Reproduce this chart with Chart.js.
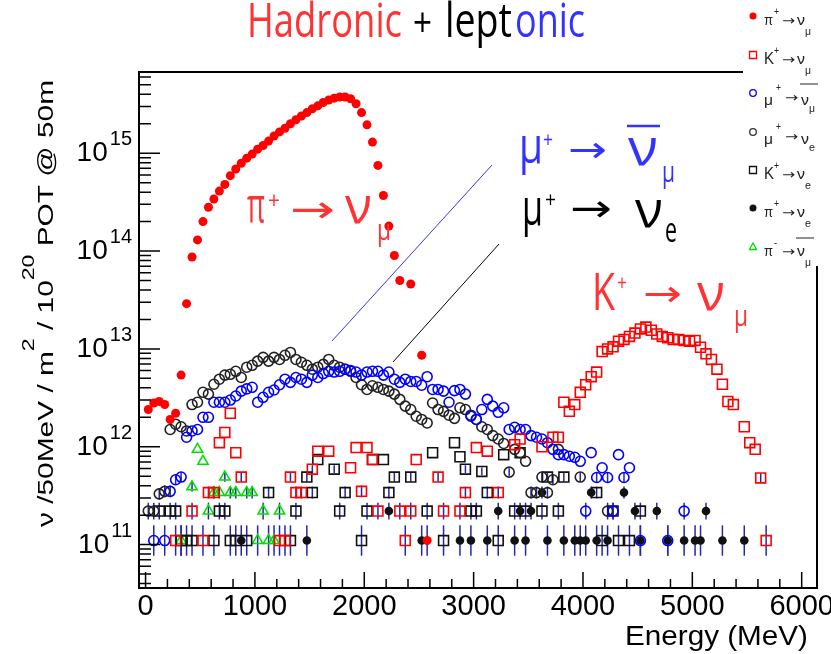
<!DOCTYPE html>
<html>
<head>
<meta charset="utf-8">
<script src="https://cdn.jsdelivr.net/npm/chart.js@4.4.0/dist/chart.umd.min.js"></script>
<style>html,body{margin:0;padding:0;background:#fff;}</style>
</head>
<body>
<canvas id="chart" width="831" height="654"></canvas>
<script>
// values (50 MeV bins, nu / 50MeV / m^2 / 1e20 POT)
var piNumuE = [25,75,125,175,225,275,325,375,425,475,525,575,625,675,725,775,825,875,925,975,1025,1075,1125,1175,1225,1275,1325,1375,1425,1475,1525,1575,1625,1675,1725,1775,1825,1875,1925,1975,2025,2075,2125,2175,2225,2275,2325,2425,2525,2575];
var piNumuV = [2.4e12,2.8e12,2.9e12,2.7e12,1.9e12,2.2e12,5.4e12,2.9e13,8.7e13,1.3e14,2.0e14,2.8e14,3.4e14,4.1e14,4.8e14,5.9e14,6.9e14,7.9e14,8.9e14,9.8e14,1.1e15,1.2e15,1.33e15,1.5e15,1.65e15,1.8e15,2.0e15,2.2e15,2.4e15,2.6e15,2.85e15,3.05e15,3.3e15,3.5e15,3.65e15,3.75e15,3.75e15,3.6e15,3.2e15,2.6e15,1.95e15,1.3e15,7.5e14,3.7e14,1.8e14,9.0e13,5.0e13,4.6e13,8.6e12,1.1e11];

var kNumuE = [275,425,525,575,625,675,725,775,825,875,1225,1275,1325,1375,1425,1525,1575,1675,1875,1925,1975,2025,2075,2125,2325,2375,2425,2475,2675,2725,2875,2925,3025,3125,3225,3375,3425,3625,3725,3775,
  3825,3875,3925,3975,4025,4075,4125,4175,4225,4275,4325,4375,4425,4475,4525,4575,4625,4675,4725,4775,4825,4875,4925,4975,5025,5075,5125,5175,5225,5275,5325,5375,5475,5525,5575,5625,5675];
var kNumuV = [1.1e11,2.2e11,1.1e11,3.4e11,3.4e11,1.1e12,1.4e12,2.2e12,8.7e11,4.9e11,1.1e11,1.1e11,4.9e11,3.4e11,3.4e11,5.9e11,9.0e11,9.0e11,6.1e11,9.8e11,3.5e11,9.8e11,7.4e11,2.2e11,2.2e11,1.1e11,2.2e11,7.4e11,4.9e11,2.2e11,2.2e11,3.4e11,9.8e11,9.0e11,3.4e11,1.05e12,1.2e12,1.0e12,1.25e12,1.25e12,
  2.85e12,2.3e12,2.7e12,3.6e12,4.3e12,5.2e12,5.8e12,9.4e12,1.0e13,1.05e13,1.2e13,1.25e13,1.34e13,1.45e13,1.6e13,1.67e13,1.55e13,1.42e13,1.34e13,1.3e13,1.25e13,1.25e13,1.22e13,1.2e13,1.22e13,1.04e13,8.9e12,7.8e12,6.2e12,4.35e12,2.9e12,2.7e12,1.6e12,1.1e12,9.4e11,4.8e11,1.1e11];

var muNumubarE = [75,175,225,275,325,375,425,475,525,575,625,675,725,775,825,875,925,975,1025,1075,1125,1175,1225,1275,1325,1375,1425,1475,1525,1575,1625,1675,1725,1775,1825,1875,1925,1975,2025,2075,2125,2175,2225,2275,2325,2375,2425,2475,2525,2575,2625,2675,2725,2775,2825,2875,2925,2975,3025,3075,3125,3175,3225,3275,3325,3375,3425,3475,3525,3575,3625,3675,3725,3775,3825,3875,3925,3975,4025,4075,4125,4175,4225,4275,4325,4375,4425,4525,4775,4925];
var muNumubarV = [1.1e11,1.1e11,3.5e11,4.6e11,4.9e11,1.25e12,1.45e12,1.5e12,2.0e12,2.0e12,2.85e12,2.85e12,2.85e12,3.0e12,3.3e12,3.7e12,3.9e12,4.05e12,2.85e12,3.2e12,3.6e12,3.8e12,4.3e12,4.9e12,4.55e12,5.1e12,4.9e12,4.55e12,5.4e12,5.1e12,5.6e12,5.9e12,5.8e12,5.9e12,6.2e12,6.0e12,5.8e12,5.4e12,5.8e12,5.9e12,5.9e12,5.4e12,5.8e12,4.9e12,4.55e12,4.9e12,4.65e12,4.65e12,4.25e12,5.2e12,3.85e12,3.85e12,3.7e12,2.85e12,3.75e12,3.85e12,3.45e12,2.05e12,1.9e12,2.4e12,3.05e12,2.6e12,2.25e12,2.5e12,1.5e12,1.58e12,1.5e12,1.5e12,1.3e12,1.25e12,1.2e12,1.1e12,9.4e11,8.3e11,8.3e11,8.0e11,7.8e11,7.1e11,2.2e11,8.7e11,4.85e11,6.1e11,4.85e11,2.2e11,8.3e11,4.85e11,6.1e11,1.1e11,1.1e11,2.2e11];

var muNueE = [25,75,125,175,225,275,325,375,425,475,525,575,625,675,725,775,825,875,925,975,1025,1075,1125,1175,1225,1275,1325,1375,1425,1475,1525,1575,1625,1675,1725,1775,1825,1875,1925,1975,2025,2075,2125,2175,2225,2275,2325,2375,2425,2475,2525,2575,2625,2675,2725,2775,2825,2875,2925,2975,3025,3075,3125,3175,3225,3275,3325,3375,3425,3475,3525,3575,3625,3675,3725,3775,3975,4225];
var muNueV = [2.2e11,2.2e11,3.3e11,3.5e11,1.5e12,1.7e12,1.6e12,1.45e12,2.7e12,2.85e12,3.6e12,3.45e12,4.35e12,4.9e12,5.4e12,5.5e12,5.9e12,5.1e12,6.5e12,6.8e12,7.5e12,8.2e12,7.5e12,8.2e12,7.8e12,8.6e12,9.2e12,7.8e12,7.3e12,6.8e12,6.2e12,6.5e12,6.95e12,7.8e12,6.8e12,6.5e12,6.2e12,5.9e12,5.1e12,4.3e12,3.85e12,4.2e12,4.05e12,3.85e12,3.7e12,3.45e12,3.05e12,2.6e12,2.4e12,2.05e12,1.9e12,1.75e12,2.8e12,2.4e12,2.3e12,2.1e12,1.95e12,2.5e12,2.4e12,2.1e12,1.9e12,1.6e12,1.5e12,1.3e12,1.2e12,1.08e12,5.5e11,9.4e11,8.7e11,7.1e11,3.4e11,3.4e11,4.9e11,3.4e11,4.6e11,9.4e11,4.9e11,2.2e11];

var kNueE = [125,225,275,325,375,425,625,675,725,775,825,925,1125,1325,1375,1475,1525,1575,1725,1775,1825,1975,2025,2075,2175,2225,2275,2425,2575,2625,2725,2825,2875,2925,2975,3025,3075,3125,3225,3275,3375,3425,3475,3625,3675,3775,3825,4125,4175,4275,4325,4425,4525];
var kNueV = [2.2e11,2.2e11,2.2e11,1.1e11,1.1e11,1.1e11,1.1e11,2.2e11,2.2e11,1.1e11,1.1e11,1.1e11,3.4e11,1.1e11,2.2e11,4.9e11,3.4e11,7.4e11,5.9e11,2.2e11,3.4e11,1.1e11,2.2e11,7.4e11,7.4e11,3.4e11,4.9e11,4.9e11,2.2e11,8.7e11,1.1e11,1.1e12,7.9e11,5.9e11,2.2e11,2.2e11,5.6e11,3.4e11,1.1e11,8.3e11,2.2e11,8.7e11,2.2e11,2.2e11,4.9e11,2.2e11,4.9e11,3.4e11,1.1e11,2.2e11,1.1e11,1.1e11,2.2e11];

var piNueE = [875,1475,2225,2525,2875,2975,3125,3225,3375,3425,3475,3525,3625,3675,3825,3925,3975,4025,4075,4125,4225,4375,4475,4525,4675,4775,4925,5025,5075,5125,5275,5475];
var piNueV = [1.1e11,1.1e11,2.2e11,1.1e11,1.1e11,1.1e11,1.1e11,2.2e11,1.1e11,2.2e11,1.1e11,2.2e11,3.4e11,1.1e11,1.1e11,1.1e11,1.1e11,1.1e11,3.4e11,1.1e11,1.1e11,3.4e11,2.2e11,1.1e11,2.2e11,1.1e11,1.1e11,1.1e11,1.1e11,2.2e11,1.1e11,1.1e11];

var pimNumubarE = [325,425,475,525,575,625,675,725,775,825,925,975,1025,1075,1125,1175,1225];
var pimNumubarV = [1.1e11,3.9e11,9.4e11,7.1e11,2.2e11,3.4e11,3.4e11,4.9e11,3.4e11,3.4e11,3.4e11,3.4e11,1.1e11,2.2e11,1.1e11,1.1e11,2.2e11];

var xTickLabels = [0,1000,2000,3000,4000,5000,6000];
var yTickExps = [11,12,13,14,15];

function pts(es, vs) {
  var out = [];
  for (var i = 0; i < es.length; i++) out.push({x: es[i], y: vs[i]});
  return out;
}

var RED = '#ff0000', BLUE = '#0000ff', GREEN = '#00e000', BLK = '#111111';
var AFAM = '"Open Sans", "Noto Sans", sans-serif';
var HFAM = '"Liberation Sans", Arial, sans-serif';
var ARROW = '"DejaVu Sans", sans-serif';

// one glyph group squeezed to a given width
function piece(ctx, t, x, y, size, w, color, fam) {
  ctx.save();
  ctx.font = size + 'px ' + fam;
  ctx.fillStyle = color;
  ctx.textAlign = 'left';
  ctx.textBaseline = 'alphabetic';
  var m = ctx.measureText(t).width;
  ctx.translate(x, y);
  ctx.scale(w / m, 1);
  ctx.fillText(t, 0, 0);
  ctx.restore();
}
function seg(ctx, x1, y1, x2, y2, color, lw) {
  ctx.save();
  ctx.strokeStyle = color; ctx.lineWidth = lw;
  ctx.beginPath(); ctx.moveTo(x1, y1); ctx.lineTo(x2, y2); ctx.stroke();
  ctx.restore();
}

var rootStyle = {
  id: 'rootStyle',
  beforeDatasetsDraw: function(chart) {
    // small-count bins get vertical error bars
    var ctx = chart.ctx, xs = chart.scales.x, ys = chart.scales.y;
    ctx.save();
    ctx.strokeStyle = '#2626a8';
    ctx.lineWidth = 1.5;
    chart.data.datasets.forEach(function(ds) {
      ds.data.forEach(function(p) {
        if (p.y > 6e11) return;
        var n = Math.max(1, Math.round(p.y / 1.1e11));
        var f = Math.pow(10, 0.155 / Math.pow(n, 0.85));
        var px = xs.getPixelForValue(p.x);
        ctx.beginPath();
        ctx.moveTo(px, ys.getPixelForValue(p.y * f));
        ctx.lineTo(px, ys.getPixelForValue(p.y / f));
        ctx.stroke();
      });
    });
    ctx.restore();
  },
  afterDatasetsDraw: function(chart) {
    var ctx = chart.ctx, xs = chart.scales.x, ys = chart.scales.y, a = chart.chartArea;
    var v, px, py;

    // frame
    ctx.save();
    ctx.strokeStyle = '#000';
    ctx.lineWidth = 2;
    ctx.strokeRect(a.left, a.top, a.right - a.left, a.bottom - a.top);
    ctx.lineWidth = 1.5;
    ctx.beginPath();
    for (v = 0; v <= 6000; v += 200) {
      px = xs.getPixelForValue(v);
      ctx.moveTo(px, a.bottom);
      ctx.lineTo(px, a.bottom - (v % 1000 === 0 ? 16 : 9));
    }
    for (var d = 10; d <= 15; d++) {
      for (var m = 1; m <= 9; m++) {
        v = m * Math.pow(10, d);
        if (v < ys.min || v > ys.max) continue;
        py = ys.getPixelForValue(v);
        ctx.moveTo(a.left, py);
        ctx.lineTo(a.left + (m === 1 ? 21 : 12), py);
      }
    }
    ctx.stroke();

    // tick labels
    ctx.fillStyle = '#000';
    ctx.textBaseline = 'alphabetic';
    ctx.textAlign = 'center';
    ctx.font = '29px ' + HFAM;
    xTickLabels.forEach(function(t) {
      ctx.fillText(String(t), xs.getPixelForValue(t), 615);
    });
    ctx.textAlign = 'right';
    yTickExps.forEach(function(e) {
      var y = ys.getPixelForValue(Math.pow(10, e));
      ctx.font = '20px ' + HFAM;
      var we = ctx.measureText(String(e)).width;
      ctx.fillText(String(e), 132, y - 8);
      ctx.font = '28px ' + HFAM;
      ctx.fillText('10', 132 - we - 2, y + 8);
    });

    // axis titles
    piece(ctx, 'Energy (MeV)', 625, 645, 28, 183, '#000', HFAM);
    ctx.translate(53, 527);
    ctx.rotate(-Math.PI / 2);
    var runs = [['\u03bd /50MeV / m', 22, 0], ['2', 17, -19], [' / 10', 22, 0], ['20', 17, -19], [' POT @ 50m', 22, 0]];
    var tot = 0;
    runs.forEach(function(r) { ctx.font = r[1] + 'px ' + HFAM; tot += ctx.measureText(r[0]).width; });
    var sc = 447 / tot, cx = 0;
    ctx.textAlign = 'left';
    runs.forEach(function(r) {
      ctx.font = r[1] + 'px ' + HFAM;
      var w = ctx.measureText(r[0]).width;
      ctx.save();
      ctx.translate(cx, r[2]);
      ctx.scale(sc, 1);
      ctx.fillText(r[0], 0, 0);
      ctx.restore();
      cx += w * sc;
    });
    ctx.restore();

    // title
    piece(ctx, 'Hadronic', 247, 37, 48, 155, '#ff3333', AFAM);
    piece(ctx, '+', 413, 37, 40, 19, '#000', AFAM);
    piece(ctx, 'lept', 445, 37, 48, 67, '#000', AFAM);
    piece(ctx, 'onic', 515, 37, 48, 70, '#3333ff', AFAM);

    // annotations
    var R = '#ff3333', B = '#3333ff';
    piece(ctx, '\u03c0', 247, 223, 52, 18, R, AFAM);
    piece(ctx, '+', 268, 209, 24, 12, R, AFAM);
    piece(ctx, '\u2192', 290, 222, 38, 45, R, ARROW);
    piece(ctx, '\u03bd', 345, 223, 52, 27, R, AFAM);
    piece(ctx, '\u03bc', 377, 240, 30, 14, R, AFAM);

    piece(ctx, '\u03bc', 519, 163, 52, 24, B, AFAM);
    piece(ctx, '+', 543, 147, 22, 10, B, AFAM);
    piece(ctx, '\u2192', 568, 162, 36, 39, B, ARROW);
    piece(ctx, '\u03bd', 628, 165, 52, 30, B, AFAM);
    seg(ctx, 627, 126, 660, 126, B, 2.5);
    piece(ctx, '\u03bc', 662, 182, 30, 13, B, AFAM);

    piece(ctx, '\u03bc', 522, 225, 52, 21, '#000', AFAM);
    piece(ctx, '+', 545, 207, 22, 11, '#000', AFAM);
    piece(ctx, '\u2192', 570, 221, 38, 42, '#000', ARROW);
    piece(ctx, '\u03bd', 635, 227, 52, 28, '#000', AFAM);
    piece(ctx, 'e', 665, 242, 34, 12, '#000', AFAM);

    piece(ctx, 'K', 592, 310, 52, 23, R, AFAM);
    piece(ctx, '+', 617, 290, 22, 10, R, AFAM);
    piece(ctx, '\u2192', 643, 306, 36, 39, R, ARROW);
    piece(ctx, '\u03bd', 697, 310, 52, 28, R, AFAM);
    piece(ctx, '\u03bc', 734, 326, 30, 14, R, AFAM);

    seg(ctx, 332, 341, 492, 165, B, 1);
    seg(ctx, 393, 362, 499, 244, '#000', 1);

    // legend box (covers frame corner)
    ctx.save();
    ctx.fillStyle = '#fff';
    ctx.fillRect(743, 0, 88, 266);
    var legY = [16, 55, 93, 132, 170, 208, 247];
    var mx = 753;
    function mark(kind, col, y) {
      ctx.save();
      ctx.strokeStyle = col; ctx.fillStyle = col; ctx.lineWidth = 1.3;
      ctx.beginPath();
      if (kind === 'dot') { ctx.arc(mx, y, 3.5, 0, Math.PI * 2); ctx.fill(); }
      else if (kind === 'ring') { ctx.arc(mx, y, 3.3, 0, Math.PI * 2); ctx.stroke(); }
      else if (kind === 'sq') { ctx.rect(mx - 3.5, y - 3.5, 7, 7); ctx.stroke(); }
      else { ctx.moveTo(mx, y - 4); ctx.lineTo(mx + 3.6, y + 2.5); ctx.lineTo(mx - 3.6, y + 2.5); ctx.closePath(); ctx.stroke(); }
      ctx.restore();
    }
    var LT = '#222';
    var entries = [
      ['dot', RED, '\u03c0', '+', '\u03bc', false],
      ['sq', RED, 'K', '+', '\u03bc', false],
      ['ring', BLUE, '\u03bc', '+', '\u03bc', true],
      ['ring', '#333', '\u03bc', '+', 'e', false],
      ['sq', BLK, 'K', '+', 'e', false],
      ['dot', BLK, '\u03c0', '+', 'e', false],
      ['tri', GREEN, '\u03c0', '-', '\u03bc', true]
    ];
    entries.forEach(function(en, k) {
      var y = legY[k];
      mark(en[0], en[1], y);
      var isMu = en[2] === '\u03bc';
      piece(ctx, en[2], 764, y + (isMu ? 12 : 9), en[2] === 'K' ? 16 : 15, en[2] === 'K' ? 10 : 9, LT, HFAM);
      piece(ctx, en[3], isMu ? 776 : 774, y + (isMu ? -2 : -1), 10, en[3] === '-' ? 3 : 5, LT, HFAM);
      piece(ctx, '\u2192', isMu ? 785 : 782, y + 9, 13, 13, LT, ARROW);
      var nx = isMu ? 801 : 797;
      piece(ctx, '\u03bd', nx, y + (isMu ? 12 : 9), 15, 8, LT, HFAM);
      piece(ctx, en[4], nx + 8, y + 19, 10, 6, LT, HFAM);
      if (en[5]) seg(ctx, nx - 1, y - 9, nx + 17, y - 9, LT, 1);
    });
    ctx.restore();
  }
};

var chartCtx = document.getElementById('chart').getContext('2d');
var chart = new Chart(chartCtx, {
  type: 'scatter',
  data: {
    datasets: [
      {label: 'pi+ -> numu', data: pts(piNumuE, piNumuV), pointStyle: 'circle', pointRadius: 4.5, pointBackgroundColor: RED, pointBorderColor: RED, pointBorderWidth: 0},
      {label: 'K+ -> numu', data: pts(kNumuE, kNumuV), pointStyle: 'rect', pointRadius: 7, pointBackgroundColor: 'rgba(0,0,0,0)', pointBorderColor: RED, pointBorderWidth: 1.6},
      {label: 'mu+ -> numubar', data: pts(muNumubarE, muNumubarV), pointStyle: 'circle', pointRadius: 5, pointBackgroundColor: 'rgba(0,0,0,0)', pointBorderColor: BLUE, pointBorderWidth: 1.6},
      {label: 'mu+ -> nue', data: pts(muNueE, muNueV), pointStyle: 'circle', pointRadius: 5, pointBackgroundColor: 'rgba(0,0,0,0)', pointBorderColor: '#222', pointBorderWidth: 1.6},
      {label: 'K+ -> nue', data: pts(kNueE, kNueV), pointStyle: 'rect', pointRadius: 7, pointBackgroundColor: 'rgba(0,0,0,0)', pointBorderColor: BLK, pointBorderWidth: 1.6},
      {label: 'pi+ -> nue', data: pts(piNueE, piNueV), pointStyle: 'circle', pointRadius: 4.3, pointBackgroundColor: BLK, pointBorderColor: BLK, pointBorderWidth: 0},
      {label: 'pi- -> numubar', data: pts(pimNumubarE, pimNumubarV), pointStyle: 'triangle', pointRadius: 6, pointBackgroundColor: 'rgba(0,0,0,0)', pointBorderColor: GREEN, pointBorderWidth: 1.5}
    ]
  },
  options: {
    responsive: false,
    animation: false,
    events: [],
    layout: {padding: {left: 139, right: 14, top: 72, bottom: 66}},
    plugins: {legend: {display: false}, tooltip: {enabled: false}},
    scales: {
      x: {type: 'linear', min: -60, max: 6140, display: false},
      y: {type: 'logarithmic', min: 3.6e10, max: 6.76e15, display: false}
    }
  },
  plugins: [rootStyle]
});
</script>
</body>
</html>
